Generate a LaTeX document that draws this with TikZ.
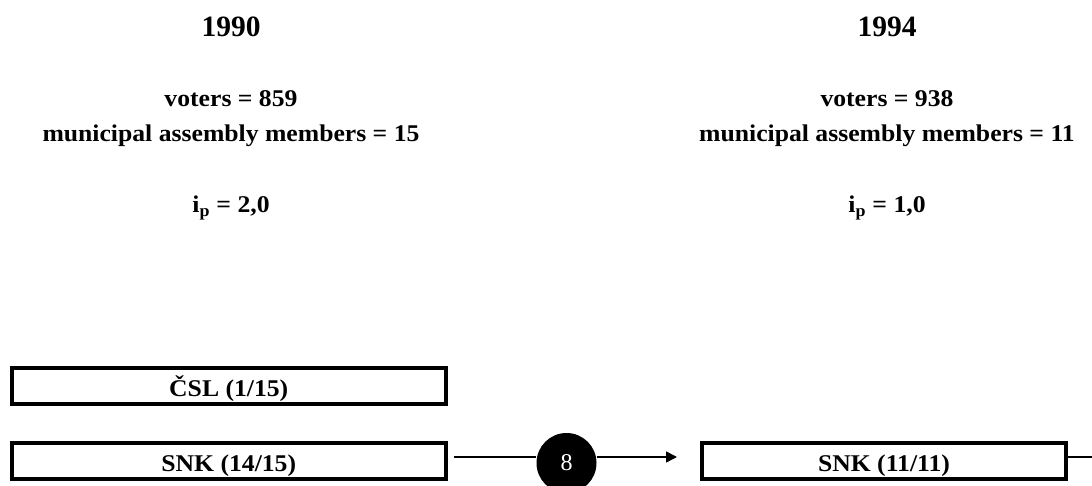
\documentclass[tikz,border=0pt]{standalone}
\usepackage{fontspec}
\setmainfont{Liberation Serif}
\newfontfamily\bodyfont[FakeStretch=1.07]{Liberation Serif}
\usetikzlibrary{arrows.meta}
\tikzset{
  title/.style={anchor=base, font=\fontsize{29.5}{34}\selectfont\bfseries, inner sep=0pt},
  body/.style={anchor=base, font=\bodyfont\fontsize{24}{28}\selectfont\bfseries, inner sep=0pt},
  partybox/.style={draw, line width=4pt, minimum height=36pt, inner sep=0pt,
    text height=21pt, text depth=0pt,
    font=\bodyfont\fontsize{24}{28}\selectfont\bfseries},
  flowcircle/.style={circle, fill=black, minimum size=60pt, inner sep=0pt,
    text=white, font=\fontsize{24}{28}\selectfont},
  conn/.style={line width=1.6pt},
}
\begin{document}
\begin{tikzpicture}[x=1pt,y=-1pt]
\useasboundingbox (0,0) rectangle (1092,486);
\clip (0,0) rectangle (1092,486);
% headers
\node[title] (y90) at (231,37) {1990};
\node[title] (y94) at (887,37) {1994};
\node[body] (v90) at (231,107) {voters = 859};
\node[body] (m90) at (231,142) {municipal assembly members = 15};
\node[body] (i90) at (231,213) {i\textsubscript{p} = 2,0};
\node[body] (v94) at (887,107) {voters = 938};
\node[body] (m94) at (887,142) {municipal assembly members = 11};
\node[body] (i94) at (887,213) {i\textsubscript{p} = 1,0};
% boxes
\node[partybox, minimum width=434.5pt] (csl90) at (228.75,386) {ČSL (1/15)};
\node[partybox, minimum width=434.5pt] (snk90) at (228.75,460.5) {SNK (14/15)};
\node[partybox, minimum width=364pt] (snk94) at (884,461) {SNK (11/11)};
\node[flowcircle] (n8) at (566.5,463) {8};
\coordinate (ly) at (0,457);
\coordinate (rend) at (1110,457);
% connectors
\draw[conn, shorten <=6pt] (snk90.east |- ly) -- (n8.west |- ly);
\draw[conn, -{Triangle[length=11pt,width=11pt]}, shorten >=23pt] (n8.east |- ly) -- (snk94.west |- ly);
\draw[conn] (snk94.east |- ly) -- (rend);
\end{tikzpicture}
\end{document}
